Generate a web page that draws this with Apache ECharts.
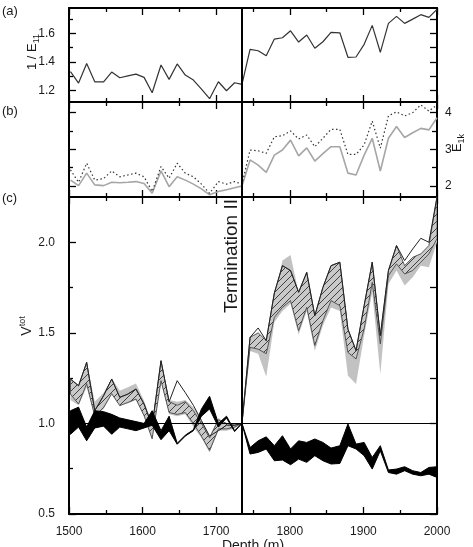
<!DOCTYPE html>
<html>
<head>
<meta charset="utf-8">
<script src="https://cdn.jsdelivr.net/npm/echarts@6/dist/echarts.min.js"></script>
<style>
  html, body { margin: 0; padding: 0; background: #fff; }
  #chart { width: 473px; height: 547px; }
</style>
</head>
<body>
<div id="chart"></div>
<script>
// depth of each sample (m); the break at 1735 m is Termination II
const depth = [1502, 1513, 1524, 1535, 1547, 1558, 1569, 1580, 1591, 1602, 1613, 1625, 1636, 1647, 1658, 1669, 1680, 1691, 1703, 1714, 1725, 1735,
  1746, 1757, 1768, 1779, 1790, 1801, 1812, 1823, 1834, 1845, 1856, 1868, 1879, 1890, 1901, 1912, 1923, 1934, 1945, 1956, 1967, 1978, 1989, 2000];
const termination = 1735;

// (a) 1 / E11
const invE11 = [1.331, 1.251, 1.389, 1.260, 1.260, 1.328, 1.288, 1.301, 1.314, 1.291, 1.183, 1.378, 1.277, 1.385, 1.307, 1.272, 1.209, 1.141, 1.260, 1.197, 1.253, 1.242,
  1.488, 1.478, 1.443, 1.560, 1.569, 1.618, 1.539, 1.588, 1.495, 1.541, 1.607, 1.604, 1.432, 1.434, 1.523, 1.656, 1.467, 1.670, 1.719, 1.670, 1.700, 1.731, 1.712, 1.768];

// (b) E1k, dotted and solid grey
const e1kDotted = [2.44, 2.10, 2.62, 2.16, 2.20, 2.41, 2.25, 2.30, 2.35, 2.25, 1.85, 2.53, 2.21, 2.62, 2.35, 2.25, 2.05, 1.80, 2.12, 2.05, 2.12, 2.05,
  2.98, 2.96, 2.89, 3.34, 3.37, 3.50, 3.28, 3.39, 3.07, 3.30, 3.545, 3.54, 2.86, 2.86, 3.12, 3.77, 3.03, 3.91, 4.02, 3.91, 4.00, 4.21, 4.04, 4.21];
const e1kSolid = [2.16, 2.01, 2.35, 2.03, 2.01, 2.10, 2.09, 2.10, 2.12, 2.07, 1.80, 2.41, 1.98, 2.25, 2.16, 2.05, 1.92, 1.76, 1.85, 1.90, 1.95, 2.00,
  2.71, 2.57, 2.37, 2.84, 2.98, 3.25, 2.82, 3.04, 2.68, 2.88, 3.07, 3.07, 2.35, 2.30, 2.84, 3.30, 2.41, 3.30, 3.62, 3.32, 3.45, 3.57, 3.53, 3.86];

// (c) Vtot envelopes
const greyLo = [1.13, 1.10, 1.20, 1.04, 1.08, 1.16, 1.10, 1.11, 1.13, 1.04, 0.91, 1.23, 1.05, 1.04, 1.05, 0.98, 0.92, 0.84, 0.96, 0.96, 0.97, 1.00,
  1.40, 1.385, 1.258, 1.558, 1.62, 1.66, 1.49, 1.62, 1.40, 1.54, 1.64, 1.62, 1.263, 1.218, 1.485, 1.724, 1.273, 1.77, 1.844, 1.761, 1.807, 1.871, 1.862, 2.00];
const greyHi = [1.25, 1.21, 1.34, 1.12, 1.17, 1.25, 1.18, 1.20, 1.22, 1.125, 1.00, 1.35, 1.13, 1.12, 1.13, 1.09, 1.02, 0.93, 1.03, 1.00, 1.00, 1.00,
  1.47, 1.49, 1.45, 1.70, 1.90, 1.93, 1.72, 1.83, 1.59, 1.74, 1.86, 1.88, 1.50, 1.39, 1.64, 1.88, 1.47, 1.83, 1.96, 1.86, 1.90, 1.92, 1.97, 2.20];
const hatchLo = [1.162, 1.107, 1.22, 1.04, 1.088, 1.164, 1.098, 1.116, 1.135, 1.043, 0.915, 1.236, 1.06, 1.05, 1.06, 1.00, 0.93, 0.85, 0.97, 0.97, 0.98, 1.00,
  1.42, 1.41, 1.385, 1.586, 1.641, 1.678, 1.512, 1.641, 1.43, 1.567, 1.678, 1.65, 1.392, 1.356, 1.522, 1.779, 1.439, 1.816, 1.881, 1.825, 1.844, 1.89, 1.936, 2.02];
const hatchHi = [1.245, 1.208, 1.337, 1.07, 1.153, 1.245, 1.144, 1.162, 1.19, 1.107, 0.987, 1.346, 1.12, 1.10, 1.12, 1.07, 1.00, 0.92, 1.02, 1.00, 0.99, 1.00,
  1.475, 1.50, 1.457, 1.72, 1.871, 1.844, 1.724, 1.834, 1.595, 1.751, 1.871, 1.89, 1.52, 1.402, 1.65, 1.89, 1.485, 1.844, 1.982, 1.871, 1.917, 1.936, 1.982, 2.25];
const upperLine = [1.245, 1.208, 1.337, 1.07, 1.153, 1.245, 1.144, 1.162, 1.19, 1.107, 0.987, 1.346, 1.12, 1.236, 1.17, 1.10, 1.015, 0.93, 0.96, 0.99, 0.99, 1.00,
  1.475, 1.527, 1.457, 1.72, 1.871, 1.844, 1.724, 1.834, 1.595, 1.751, 1.871, 1.89, 1.52, 1.402, 1.65, 1.89, 1.485, 1.844, 1.982, 1.899, 1.963, 2.022, 2.00, 2.25];
const blackLo = [0.94, 0.98, 0.904, 0.975, 0.985, 0.94, 0.98, 0.97, 0.96, 0.975, 0.99, 0.91, 0.96, 0.885, 0.93, 0.96, 1.04, 1.08, 0.98, 1.03, 0.955, 1.00,
  0.831, 0.84, 0.859, 0.794, 0.798, 0.772, 0.803, 0.785, 0.822, 0.794, 0.776, 0.779, 0.877, 0.859, 0.822, 0.748, 0.849, 0.729, 0.72, 0.739, 0.72, 0.711, 0.72, 0.702];
const blackHi = [1.07, 1.09, 0.98, 1.07, 1.065, 1.05, 1.03, 1.02, 1.01, 1.00, 1.07, 0.96, 1.04, 0.89, 0.935, 0.965, 1.08, 1.15, 1.00, 1.04, 0.96, 1.00,
  0.867, 0.904, 0.926, 0.877, 0.932, 0.859, 0.904, 0.895, 0.914, 0.895, 0.864, 0.877, 0.997, 0.886, 0.895, 0.812, 0.877, 0.743, 0.748, 0.761, 0.739, 0.729, 0.757, 0.761];

// ticks
const xMajor = [1500, 1600, 1700, 1800, 1900, 2000];
const xMinor = [1550, 1650, 1750, 1850, 1950];
const aMajor = [1.2, 1.4, 1.6], aMinor = [1.3, 1.5, 1.7], aAll = [1.2, 1.3, 1.4, 1.5, 1.6, 1.7];
const bMajor = [2, 3, 4], bMinor = [2.5, 3.5];
const cMajor = [0.5, 1.0, 1.5, 2.0], cMinor = [0.75, 1.25, 1.75], cAll = [0.5, 0.75, 1.0, 1.25, 1.5, 1.75, 2.0];

const FONT = 'Arial, "Liberation Sans", sans-serif';
const INK = '#1a1a1a';

const grids = [
  { left: 69, right: 36, top: 8, height: 94 },
  { left: 69, right: 36, top: 102, height: 95 },
  { left: 69, right: 36, top: 197, height: 317 }
];
const yRange = [[1.118, 1.778], [1.70, 4.289], [0.5, 2.25]];

function ax(grid, pos, min, max, ticks, len, line, labels, fmt, margin) {
  return {
    type: 'value', gridIndex: grid, position: pos, min, max,
    axisLine: { show: line, onZero: false, lineStyle: { color: '#000', width: 2 } },
    axisTick: ticks ? { show: true, inside: true, length: len, customValues: ticks, lineStyle: { color: '#000', width: 1.3 } } : { show: false },
    axisLabel: labels ? { show: true, customValues: labels, formatter: fmt, margin, color: INK, fontSize: 12, fontFamily: FONT } : { show: false },
    splitLine: { show: false }
  };
}

const xAxes = [], yAxes = [];
for (let g = 0; g < 3; g++) {
  xAxes.push(ax(g, 'bottom', 1500, 2000, xMajor, 7, true, g === 2 ? xMajor : null, v => String(v), 12));
  xAxes.push(ax(g, 'bottom', 1500, 2000, xMinor, 4, false));
  xAxes.push(ax(g, 'top', 1500, 2000, xMajor, 7, true));
  xAxes.push(ax(g, 'top', 1500, 2000, xMinor, 4, false));
}
const [ya, yb, yc] = yRange;
yAxes.push(ax(0, 'left', ya[0], ya[1], aMajor, 7, true, aMajor, v => v.toFixed(1), 14));
yAxes.push(ax(0, 'left', ya[0], ya[1], aMinor, 4, false));
yAxes.push(ax(0, 'right', ya[0], ya[1], aAll, 7, true));
yAxes.push(ax(0, 'right', ya[0], ya[1], null, 0, false));
yAxes.push(ax(1, 'left', yb[0], yb[1], bMajor, 7, true));
yAxes.push(ax(1, 'left', yb[0], yb[1], bMinor, 4, false));
yAxes.push(ax(1, 'right', yb[0], yb[1], bMajor, 7, true, bMajor, v => String(v), 8));
yAxes.push(ax(1, 'right', yb[0], yb[1], bMinor, 5, false));
yAxes.push(ax(2, 'left', yc[0], yc[1], cMajor, 7, true, cMajor, v => v.toFixed(1), 14));
yAxes.push(ax(2, 'left', yc[0], yc[1], cMinor, 4, false));
yAxes.push(ax(2, 'right', yc[0], yc[1], cAll, 7, true));
yAxes.push(ax(2, 'right', yc[0], yc[1], null, 0, false));

// diagonal hatch tile
const tile = document.createElement('canvas');
tile.width = 7; tile.height = 7;
const tc = tile.getContext('2d');
tc.fillStyle = '#c9c9c9';
tc.fillRect(0, 0, 7, 7);
tc.strokeStyle = '#404040';
tc.lineWidth = 1;
tc.beginPath();
tc.moveTo(-1, 8); tc.lineTo(8, -1);
tc.stroke();
const hatchFill = { image: tile, repeat: 'repeat' };

const termLine = {
  silent: true, symbol: 'none', label: { show: false },
  lineStyle: { color: '#000', width: 2, type: 'solid' },
  data: [{ xAxis: termination }]
};

function line(g, values, color, width, type, extra) {
  return Object.assign({
    type: 'line', xAxisIndex: 4 * g, yAxisIndex: 4 * g,
    data: depth.map((d, i) => [d, values[i]]),
    symbol: 'none', silent: true,
    lineStyle: { color, width, type }
  }, extra || {});
}

function band(lo, hi, style, z) {
  return {
    type: 'custom', xAxisIndex: 8, yAxisIndex: 8, silent: true, clip: true, z,
    data: depth.map((d, i) => [d, lo[i], hi[i]]),
    encode: { x: 0, y: [1, 2] },
    renderItem(params, api) {
      if (params.dataIndex !== 0) return null;
      const top = depth.map((d, i) => api.coord([d, hi[i]]));
      const bot = depth.map((d, i) => api.coord([d, lo[i]])).reverse();
      return { type: 'polygon', shape: { points: top.concat(bot) }, style };
    }
  };
}

const chart = echarts.init(document.getElementById('chart'), null, { renderer: 'canvas' });
chart.setOption({
  animation: false,
  backgroundColor: '#fff',
  grid: grids,
  xAxis: xAxes,
  yAxis: yAxes,
  series: [
    line(0, invE11, '#333', 1.2, 'solid', { markLine: termLine }),
    line(1, e1kSolid, '#a6a6a6', 1.6, 'solid', { markLine: termLine }),
    line(1, e1kDotted, '#333', 1.2, [1.5, 2.5]),
    band(greyLo, greyHi, { fill: '#c2c2c2' }, 2),
    band(hatchLo, hatchHi, { fill: hatchFill, stroke: '#4a4a4a', lineWidth: 0.9 }, 3),
    line(2, upperLine, '#222', 1, 'solid', { z: 4 }),
    band(blackLo, blackHi, { fill: '#000', stroke: '#000', lineWidth: 1 }, 5),
    line(2, upperLine.map(() => 1), 'rgba(0,0,0,0)', 0, 'solid', {
      z: 6,
      markLine: {
        silent: true, symbol: 'none', label: { show: false },
        lineStyle: { color: '#000', width: 2, type: 'solid' },
        data: [{ xAxis: termination }, { yAxis: 1, lineStyle: { width: 1 } }]
      }
    })
  ],
  graphic: [
    { type: 'text', x: 2, y: 11, style: { text: '(a)', font: '13px ' + FONT, fill: INK, verticalAlign: 'middle' } },
    { type: 'text', x: 2, y: 111, style: { text: '(b)', font: '13px ' + FONT, fill: INK, verticalAlign: 'middle' } },
    { type: 'text', x: 2, y: 198, style: { text: '(c)', font: '13px ' + FONT, fill: INK, verticalAlign: 'middle' } },
    { type: 'text', x: 32, y: 52, rotation: Math.PI / 2, style: {
      text: '{n|1 / E}{s|11}', align: 'center', verticalAlign: 'middle',
      rich: { n: { font: '13px ' + FONT, fill: INK, lineHeight: 18 }, s: { font: '9px ' + FONT, fill: INK, lineHeight: 18, verticalAlign: 'bottom' } } } },
    { type: 'text', x: 457, y: 143, rotation: Math.PI / 2, style: {
      text: '{n|E}{s|1k}', align: 'center', verticalAlign: 'middle',
      rich: { n: { font: '13px ' + FONT, fill: INK, lineHeight: 18 }, s: { font: '9px ' + FONT, fill: INK, lineHeight: 18, verticalAlign: 'bottom' } } } },
    { type: 'text', x: 27, y: 326, rotation: Math.PI / 2, style: {
      text: '{n|V}{s|tot}', align: 'center', verticalAlign: 'middle',
      rich: { n: { font: '14px ' + FONT, fill: INK, lineHeight: 18 }, s: { font: '9px ' + FONT, fill: INK, lineHeight: 18, verticalAlign: 'top' } } } },
    { type: 'text', x: 232, y: 256, rotation: Math.PI / 2, z: 10, style: {
      text: 'Termination II', font: '19px ' + FONT, fill: INK, align: 'center', verticalAlign: 'middle' } },
    { type: 'text', x: 253, y: 539, style: { text: 'Depth (m)', font: '14px ' + FONT, fill: INK, align: 'center', verticalAlign: 'top' } }
  ]
});
</script>
</body>
</html>
